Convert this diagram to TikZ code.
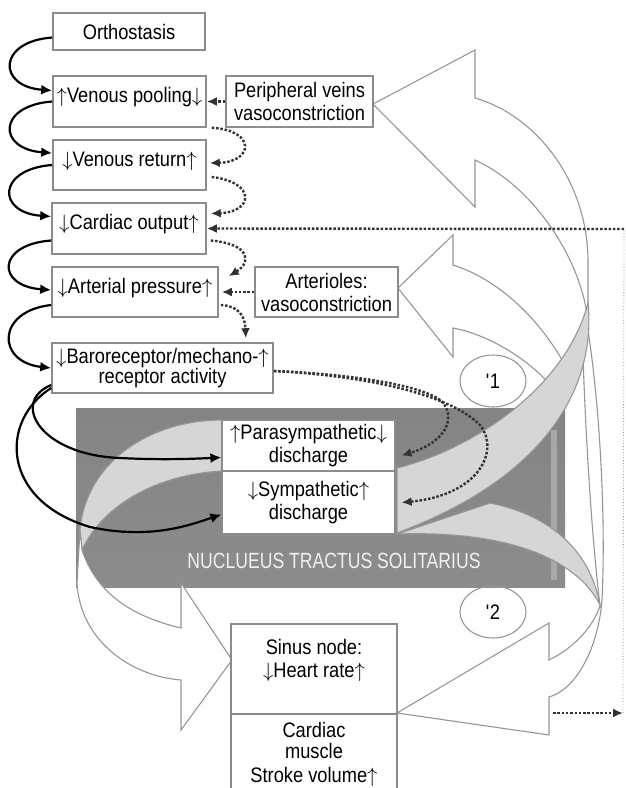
\documentclass[tikz,border=0pt]{standalone}
\usepackage{fontspec}
\setmainfont{Liberation Sans}[FakeStretch=0.87]
\newfontfamily\ntsfont{Liberation Sans}[FakeStretch=0.8]
\usetikzlibrary{arrows.meta,shapes.geometric}

\definecolor{boxgray}{RGB}{140,140,140}
\definecolor{edgegray}{RGB}{150,150,150}
\definecolor{bandgray}{RGB}{214,214,214}
\definecolor{dotgray}{RGB}{50,50,50}
\definecolor{ntstop}{RGB}{132,132,132}
\definecolor{ntsmid}{RGB}{158,158,158}
\definecolor{ntsbot}{RGB}{140,140,140}
\definecolor{ntsedge}{RGB}{168,168,168}

\newcommand\upar{\ensuremath{\uparrow}}
\newcommand\dnar{\ensuremath{\downarrow}}

\begin{document}
\begin{tikzpicture}[x=1pt, y=-1pt,
    box/.style={draw=boxgray, line width=1.6pt, fill=white, inner sep=0pt,
        align=center, font=\fontsize{21}{23}\selectfont},
    onebox/.style={box, text height=13pt, text depth=11pt},
    nbox/.style={box, line width=1.2pt},
    solidarrow/.style={line width=2.2pt, -{Latex[length=11pt,width=10pt]}},
    dotarrow/.style={dotgray, line width=2.4pt, dash pattern=on 2.5pt off 1.8pt,
        -{Latex[length=10pt,width=9pt]}},
    hollow/.style={draw=edgegray, line width=1.1pt, fill=white},
    band/.style={draw=edgegray, line width=1.1pt, fill=bandgray},
    oval/.style={draw=edgegray, line width=1.1pt, ellipse, minimum width=66pt,
        minimum height=52pt, font=\fontsize{21}{23}\selectfont}
]
\useasboundingbox (0,0) rectangle (626,788);

% nucleus tractus solitarius
\node[minimum width=489pt, minimum height=179pt, top color=ntstop,
    middle color=ntsmid, bottom color=ntsbot] (nts) at (320.5,497.5) {};
\fill[ntsedge] (551,430) rectangle (557,580);
\node[text=white!94!black, font=\ntsfont\fontsize{22}{24}\selectfont]
    (ntstext) at (334,561) {NUCLUEUS TRACTUS SOLITARIUS};

% swooshes
\draw[band] (222,420) .. controls (150,420) and (86,462) .. (80,530)
    -- (82,550) .. controls (100,510) and (150,475) .. (222,471) -- cycle;
\draw[hollow] (80,530) -- (77,583) .. controls (80,640) and (130,676) .. (181,680)
    -- (181,730) -- (232,660) -- (181,583) -- (181,628)
    .. controls (130,616) and (96,592) .. (82,550) -- cycle;
\draw[hollow] (373,104) -- (475,50) -- (475,98)
    .. controls (535,115) and (588,180) .. (588,262) -- (588,325) -- (586,308)
    .. controls (575,250) and (530,185) .. (475,160) -- (475,207) -- cycle;
\draw[hollow] (398,288) -- (453,235) -- (453,265)
    .. controls (500,280) and (540,320) .. (565,365) -- (555,390)
    .. controls (530,360) and (490,335) .. (453,328) -- (453,357) -- cycle;
\draw[hollow] (586,318) .. controls (600,400) and (606,520) .. (602,600)
    .. controls (598,650) and (575,690) .. (549,697) -- (549,735) -- (397,713)
    -- (549,623) -- (549,660) .. controls (570,650) and (592,630) .. (600,606)
    .. controls (590,520) and (585,420) .. (582,330) -- cycle;
\draw[band] (490,503) .. controls (550,515) and (590,550) .. (600,605)
    .. controls (580,565) and (520,530) .. (397,534) -- cycle;
\draw[band] (397,468) .. controls (470,450) and (565,390) .. (588,303)
    .. controls (595,370) and (565,470) .. (397,533) -- cycle;

% boxes
\node[box, minimum width=152pt, minimum height=37pt] (orth) at (129,31.5) {Orthostasis};
\node[onebox, minimum width=153pt, minimum height=51pt] (pool) at (129.5,101.5) {\upar Venous pooling\dnar};
\node[onebox, minimum width=153pt, minimum height=50pt] (ret) at (129.5,165) {\dnar Venous return\upar};
\node[onebox, minimum width=154pt, minimum height=51pt] (co) at (129,228.5) {\dnar Cardiac output\upar};
\node[onebox, minimum width=166pt, minimum height=50pt] (ap) at (135,292) {\dnar Arterial pressure\upar};
\node[box, minimum width=221pt, minimum height=50pt, font=\fontsize{21}{20}\selectfont]
    (baro) at (162.5,368) {\dnar Baroreceptor/mechano-\upar\\receptor activity};
\node[box, minimum width=147pt, minimum height=51pt] (pv) at (299.5,101.5) {Peripheral veins\\vasoconstriction};
\node[box, minimum width=143pt, minimum height=50pt] (arl) at (326.5,292) {Arterioles:\\vasoconstriction};
\node[nbox, minimum width=173pt, minimum height=51pt] (para) at (308.5,445.5) {\upar Parasympathetic\dnar\\discharge};
\node[nbox, minimum width=173pt, minimum height=63pt] (symp) at (308.5,502.5) {\dnar Sympathetic\upar\\discharge};
\node[nbox, minimum width=166pt, minimum height=90pt, text depth=22pt] (sinus) at (314,669) {Sinus node:\\\dnar Heart rate\upar};
\node[nbox, minimum width=166pt, minimum height=81pt, font=\fontsize{21}{21}\selectfont]
    (cm) at (314,754.5) {Cardiac\\muscle\\[3pt]Stroke volume\upar};

% receptor labels
\node[oval] (e1) at (493,381) {\textquotesingle1};
\node[oval] (e2) at (493,612) {\textquotesingle2};

% chain
\draw[solidarrow] ([yshift=-6pt]orth.west) .. controls +(-55,4) and +(-55,-4) .. ([yshift=11pt]pool.west);
\draw[solidarrow] (pool.west) .. controls +(-55,4) and +(-55,-4) .. ([yshift=12pt]ret.west);
\draw[solidarrow] (ret.west) .. controls +(-55,4) and +(-55,-4) .. ([yshift=12pt]co.west);
\draw[solidarrow] ([yshift=-12pt]co.west) .. controls +(-55,4) and +(-55,-4) .. ([yshift=2pt]ap.west);
\draw[solidarrow] ([yshift=-13pt]ap.west) .. controls +(-55,6) and +(-55,-6) .. (baro.west);
\draw[solidarrow] ([yshift=-17pt]baro.west) .. controls (10,402) and (40,455) .. (120,458)
    .. controls (160,460) and (190,459) .. ([yshift=-12pt]para.west);
\draw[solidarrow] ([yshift=-20pt]baro.west) .. controls (0,420) and (0,500) .. (90,527)
    .. controls (150,540) and (190,525) .. ([yshift=-12pt]symp.west);

% reflex
\draw[dotarrow] (pv.west) -- (pool.east);
\draw[dotarrow] ([xshift=5pt]pool.south east) .. controls (256,130) and (254,162) .. ([xshift=3pt,yshift=2pt]ret.east);
\draw[dotarrow] ([xshift=5pt,yshift=-12pt]ret.east) .. controls (256,182) and (254,212) .. ([xshift=4pt,yshift=15pt]co.east);
\draw[dotarrow] ([xshift=4pt,yshift=-12pt]co.east) .. controls (250,244) and (252,262) .. ([xshift=10pt,yshift=-10pt]ap.north east);
\draw[dotarrow] (arl.west) -- ([xshift=3pt]ap.east);
\draw[dotarrow] ([xshift=2pt,yshift=-13pt]ap.east) .. controls (238,306) and (245,315) .. ([xshift=-28pt,yshift=4pt]baro.north east);
\draw[dotarrow] ([yshift=-3pt]baro.east) .. controls (350,374) and (420,385) .. (440,400)
    .. controls (455,412) and (452,440) .. ([xshift=6pt,yshift=-10pt]para.east);
\draw[dotarrow] ([yshift=-3pt]baro.east) .. controls (370,376) and (450,395) .. (480,425)
    .. controls (500,450) and (480,495) .. ([xshift=6pt]symp.east);

\coordinate (hrout) at (553,713);
\coordinate (rbot) at (623,713);
\coordinate (rtop) at (624,229);
\draw[dotarrow] (hrout) -- (rbot);
\draw[dotgray!50, line width=0.8pt, dotted] (rbot) -- (rtop);
\draw[dotarrow] (rtop) -- (co.east);

\end{tikzpicture}
\end{document}
